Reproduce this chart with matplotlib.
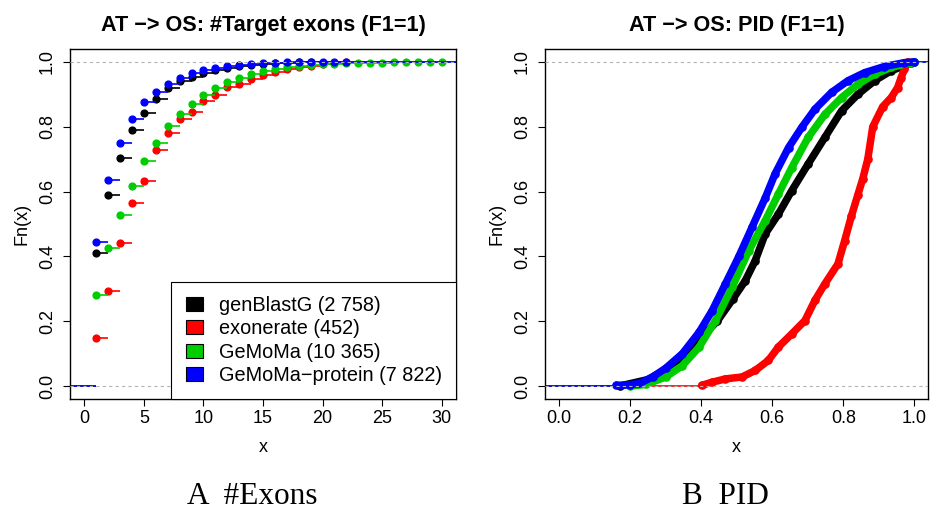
import matplotlib
matplotlib.use("Agg")
import matplotlib.pyplot as plt
from matplotlib.patches import Patch

plt.rcParams['font.family'] = ['Liberation Sans', 'DejaVu Sans']

# %% data
labels = ['genBlastG (2 758)', 'exonerate (452)', 'GeMoMa (10 365)',
          'GeMoMa\u2212protein (7 822)']
colors = ['black', '#FF0000', '#00CD00', '#0000FF']

# number of target exons -> Fn(x)
genblastg_exons = [1, 2, 3, 4, 5, 6, 7, 8, 9, 10, 11, 12, 13, 14, 15, 16,
                   17, 18, 19]
genblastg_fn = [0.410, 0.590, 0.704, 0.791, 0.843, 0.886, 0.921, 0.941,
                0.955, 0.966, 0.975, 0.982, 0.987, 0.991, 0.994, 0.996,
                0.998, 0.999, 1.0]
exonerate_exons = [1, 2, 3, 4, 5, 6, 7, 8, 9, 10, 11, 12, 13, 14, 15, 16,
                   17, 18, 19, 20, 21, 22]
exonerate_fn = [0.148, 0.294, 0.441, 0.564, 0.633, 0.729, 0.780, 0.823,
                0.847, 0.879, 0.899, 0.924, 0.933, 0.947, 0.960, 0.969,
                0.978, 0.984, 0.989, 0.993, 0.996, 1.0]
gemoma_exons = list(range(1, 31))
gemoma_fn = [0.281, 0.426, 0.529, 0.618, 0.694, 0.749, 0.801, 0.839, 0.871,
             0.897, 0.919, 0.937, 0.952, 0.964, 0.973, 0.979, 0.985, 0.988,
             0.991, 0.993, 0.995, 0.996, 0.997, 0.998, 0.998, 0.999, 0.999,
             0.999, 1.0, 1.0]
protein_exons = list(range(1, 23))
protein_fn = [0.446, 0.636, 0.749, 0.824, 0.878, 0.907, 0.933, 0.951, 0.965,
              0.975, 0.980, 0.988, 0.992, 0.995, 0.997, 0.998, 0.999, 0.999,
              0.9995, 0.9997, 0.9999, 1.0]

# PID -> Fn(x)
genblastg_pid = [0.17, 0.25, 0.328, 0.40, 0.445, 0.49, 0.524, 0.552, 0.580,
                 0.617, 0.655, 0.701, 0.748, 0.795, 0.841, 0.888, 0.935,
                 0.972, 0.99, 1.0]
genblastg_pid_fn = [0.0, 0.02, 0.069, 0.15, 0.2, 0.27, 0.325, 0.387, 0.469,
                    0.530, 0.603, 0.685, 0.767, 0.849, 0.900, 0.942, 0.973,
                    0.988, 0.998, 1.0]
exonerate_pid = [0.401, 0.431, 0.468, 0.515, 0.552, 0.589, 0.617, 0.655,
                 0.692, 0.720, 0.748, 0.785, 0.804, 0.823, 0.841, 0.855,
                 0.869, 0.883, 0.911, 0.935, 0.953, 0.963, 0.972, 0.981]
exonerate_pid_fn = [0.002, 0.012, 0.022, 0.028, 0.048, 0.079, 0.120, 0.161,
                    0.202, 0.264, 0.315, 0.377, 0.449, 0.525, 0.590, 0.640,
                    0.700, 0.800, 0.862, 0.890, 0.921, 0.952, 0.977, 1.0]
gemoma_pid = [0.20, 0.245, 0.300, 0.347, 0.394, 0.440, 0.487, 0.534, 0.58,
              0.617, 0.655, 0.701, 0.748, 0.795, 0.841, 0.888, 0.935, 0.99,
              1.0]
gemoma_pid_fn = [0.0, 0.005, 0.028, 0.063, 0.120, 0.202, 0.305, 0.418, 0.51,
                 0.592, 0.674, 0.767, 0.838, 0.890, 0.931, 0.962, 0.983,
                 0.998, 1.0]
protein_pid = [0.161, 0.20, 0.226, 0.263, 0.300, 0.347, 0.394, 0.431, 0.468,
               0.506, 0.543, 0.58, 0.608, 0.646, 0.683, 0.720, 0.767, 0.813,
               0.860, 0.916, 0.972, 1.0]
protein_pid_fn = [0.002, 0.004, 0.008, 0.028, 0.055, 0.100, 0.166, 0.233,
                  0.315, 0.400, 0.490, 0.580, 0.655, 0.736, 0.798, 0.854,
                  0.906, 0.942, 0.967, 0.986, 0.998, 1.0]

exon_series = [(genblastg_exons, genblastg_fn), (exonerate_exons, exonerate_fn),
               (gemoma_exons, gemoma_fn), (protein_exons, protein_fn)]
pid_series = [(genblastg_pid, genblastg_pid_fn),
              (exonerate_pid, exonerate_pid_fn),
              (gemoma_pid, gemoma_pid_fn), (protein_pid, protein_pid_fn)]

# %% figure
W, H = 931, 515
fig = plt.figure(figsize=(W / 100, H / 100), dpi=100)
ax1 = fig.add_axes([70 / W, 1 - 399 / H, 386 / W, 350 / H])
ax2 = fig.add_axes([545 / W, 1 - 399 / H, 383.5 / W, 350 / H])

gray_dash = dict(color='#b3b3b3', lw=0.8, ls=(0, (2.9, 2.9)), zorder=10)

# left: step ECDF of exon counts
xmin, xmax = -1.2, 31.2
for (x, fn), c in zip(exon_series, colors):
    ax1.hlines(0, xmin, x[0], color=c, lw=1.2)
    ax1.hlines(fn[:-1], x[:-1], x[1:], color=c, lw=1.2)
    ax1.hlines(1, x[-1], xmax, color=c, lw=1.2)
    ax1.plot(x, fn, 'o', ms=4.9, color=c, mec=c)
ax1.axhline(0, **gray_dash)
ax1.axhline(1, **gray_dash)
ax1.set_xlim(xmin, xmax)
ax1.set_xticks([0, 5, 10, 15, 20, 25, 30])

# right: ECDF of PID (dense, drawn as thick band)
pmin, pmax = -0.04, 1.04
for (x, fn), c in zip(pid_series, colors):
    ax2.hlines(0, pmin, x[0], color=c, lw=1.2)
    ax2.plot(x, fn, '-', lw=5.4, color=c, solid_capstyle='round',
             solid_joinstyle='round')
    ax2.plot(x, fn, 'o', ms=5.2, color=c, mec=c)
    ax2.hlines(1, x[-1], pmax, color=c, lw=1.2)
ax2.axhline(0, **gray_dash)
ax2.axhline(1, **gray_dash)
ax2.set_xlim(pmin, pmax)
ax2.set_xticks([0, 0.2, 0.4, 0.6, 0.8, 1.0])
ax2.set_xticklabels(['0.0', '0.2', '0.4', '0.6', '0.8', '1.0'])

titles = ['AT \u2212> OS: #Target exons (F1=1)', 'AT \u2212> OS: PID (F1=1)']
for ax, title in zip([ax1, ax2], titles):
    ax.set_ylim(-0.04, 1.04)
    ax.set_yticks([0, 0.2, 0.4, 0.6, 0.8, 1.0])
    ax.set_yticklabels(['0.0', '0.2', '0.4', '0.6', '0.8', '1.0'],
                       rotation=90, va='center')
    ax.tick_params(direction='out', length=5.2, width=0.8, labelsize=13,
                   color='black')
    ax.tick_params(axis='x', pad=3)
    ax.tick_params(axis='y', pad=5)
    for sp in ax.spines.values():
        sp.set_linewidth(1.0)
    ax.text(0.5, 1.066, title, transform=ax.transAxes, ha='center',
            va='center', fontsize=15.6, fontweight='bold')
    ax.set_xlabel('x', fontsize=13, va='center')
    ax.xaxis.set_label_coords(0.5, -0.14)
    ax.set_ylabel('Fn(x)', fontsize=13, va='center')
    ax.yaxis.set_label_coords(-48 / 386, 0.5)

handles = [Patch(facecolor=c, edgecolor='black', lw=0.8) for c in colors]
leg = ax1.legend(handles, labels, loc='lower right', fontsize=14.3,
                 frameon=True, fancybox=False, edgecolor='black',
                 framealpha=1, borderaxespad=0, borderpad=0.72,
                 handlelength=0.86, handleheight=0.7, handletextpad=0.8,
                 labelspacing=0.21)
leg.get_frame().set_linewidth(0.8)
leg.set_zorder(20)

fig.text(252 / W, 1 - 497 / H, 'A  #Exons', family='Liberation Serif',
         fontsize=22.5, ha='center', va='center')
fig.text(725 / W, 1 - 497 / H, 'B  PID', family='Liberation Serif',
         fontsize=22.5, ha='center', va='center')

fig.savefig('out.png', dpi=100)
